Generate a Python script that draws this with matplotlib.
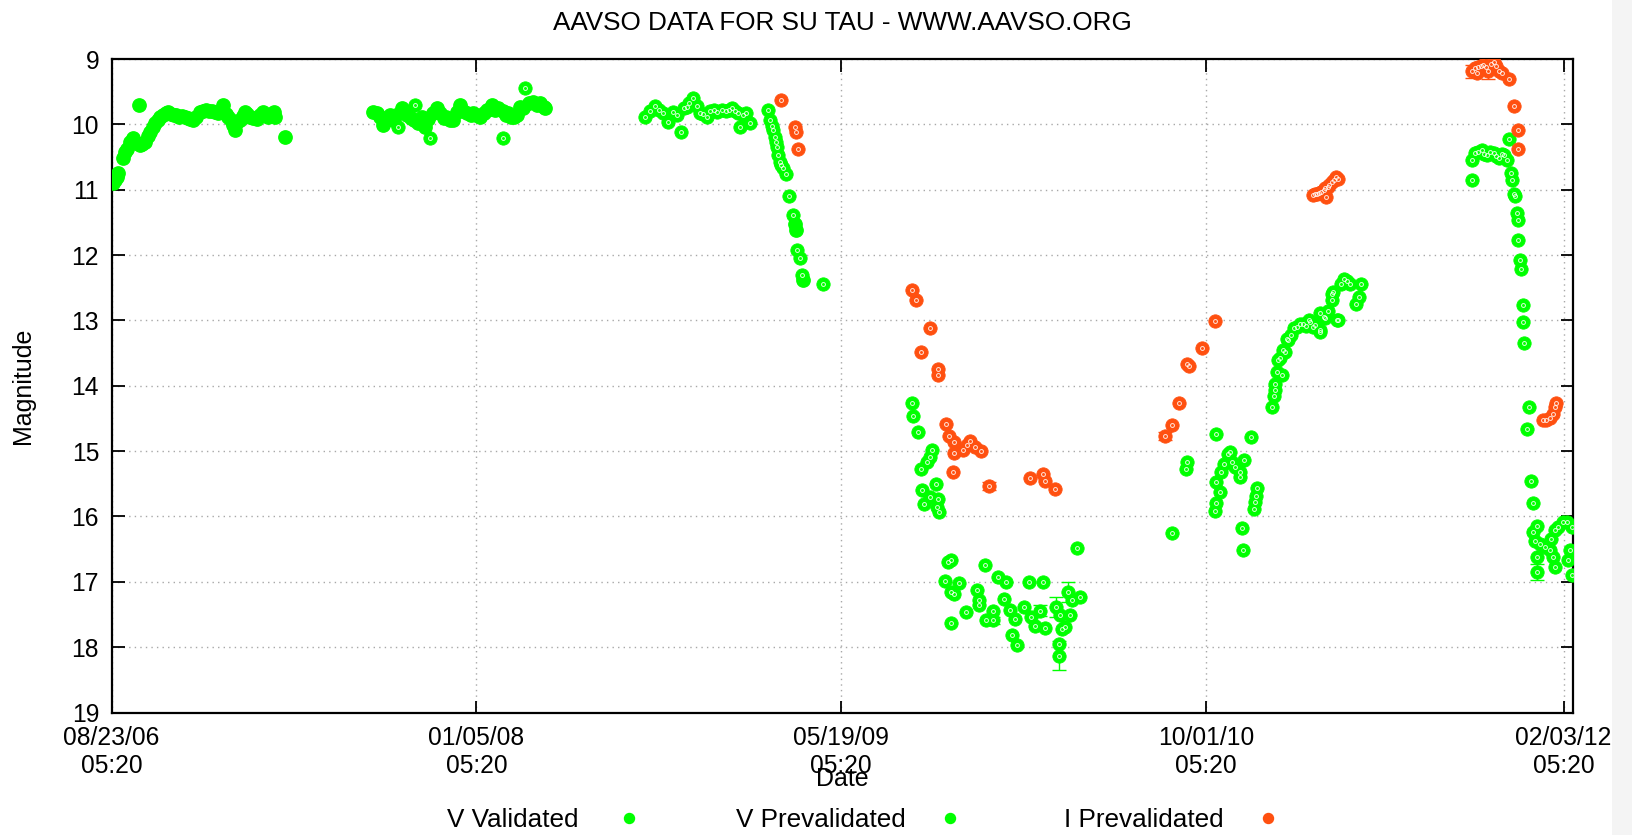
import matplotlib

matplotlib.use("Agg")
import matplotlib.pyplot as plt
import matplotlib.dates as mdates
import numpy as np
from matplotlib.lines import Line2D
from matplotlib.legend_handler import HandlerTuple
from matplotlib.patches import Rectangle

plt.rcParams["font.family"] = ["Liberation Sans", "DejaVu Sans"]

GREEN = "#00ff00"
RED = "#ff5010"
GRID = "#a8a8a8"

# observation times are days after 2006-08-23 05:20
T0 = np.datetime64("2006-08-23T05:20")

v_val_day = [2.5, 5, 7, 9, 16, 19, 21, 25, 30, 34, 38, 39, 42, 46, 50, 53, 57, 60, 63, 66,
             70, 74, 78, 82, 86, 89, 93, 97, 101, 105, 108, 112, 116, 121, 125, 130, 134, 138,
             142, 146, 150, 153, 157, 160, 164, 167, 169, 172, 176, 180, 183, 186, 190, 194,
             199, 203, 208, 212, 215, 218, 222, 224, 238,
             359, 364, 368, 372, 377, 382, 386, 390, 398, 402, 405, 410, 414, 420, 425, 430,
             434, 441, 446, 450, 455, 459, 464, 468, 473, 478, 482, 487, 492, 496, 500, 505,
             510, 514, 518, 521, 526, 530, 537, 541, 544, 548, 551, 556, 560, 564, 572, 578,
             583, 587, 592, 594,
             937, 938, 947]
v_val_mag = [10.90, 10.85, 10.80, 10.75, 10.52, 10.42, 10.37, 10.27, 10.21, 10.28, 9.70, 10.32,
             10.30, 10.27, 10.18, 10.11, 10.04, 9.98, 9.93, 9.88, 9.85, 9.82, 9.81, 9.84, 9.86,
             9.86, 9.88, 9.87, 9.88, 9.90, 9.91, 9.93, 9.88, 9.81, 9.80, 9.78, 9.79, 9.80, 9.81,
             9.83, 9.79, 9.70, 9.84, 9.88, 9.94, 10.01, 10.09, 9.96, 9.93, 9.87, 9.81, 9.84,
             9.88, 9.90, 9.91, 9.86, 9.81, 9.86, 9.88, 9.84, 9.81, 9.88, 10.19,
             9.81, 9.83, 9.88, 10.01, 9.92, 9.86, 9.93, 9.86, 9.75, 9.82, 9.86, 9.90, 9.93,
             9.98, 9.88, 10.04, 9.92, 9.83, 9.75, 9.83, 9.90, 9.88, 9.93, 9.93, 9.81, 9.70,
             9.80, 9.83, 9.86, 9.83, 9.86, 9.88, 9.82, 9.78, 9.76, 9.70, 9.78, 9.75, 9.80,
             9.85, 9.83, 9.88, 9.88, 9.86, 9.73, 9.75, 9.68, 9.65, 9.70, 9.68, 9.73, 9.75,
             11.52, 11.62, 12.38]

v_pre_day = [393, 416, 436, 537, 567,
             731, 738, 745, 750, 756, 763, 770, 775, 781, 784, 788, 791, 797, 802, 807, 811,
             816, 820, 825, 830, 836, 842, 846, 850, 855, 859, 861, 866, 870, 875,
             900, 902, 905, 907, 909, 911, 912, 914, 916, 918, 920, 924, 929, 934, 940, 943,
             946, 975,
             1097, 1099, 1105, 1109, 1111, 1114, 1117, 1122, 1122, 1125, 1130, 1131, 1133, 1134,
             1142, 1147, 1150, 1151, 1151, 1155, 1162, 1171, 1186, 1189, 1189, 1197, 1198, 1208,
             1208, 1215, 1223, 1226, 1232, 1234, 1238, 1241, 1251, 1258, 1260, 1266, 1272, 1276,
             1279, 1294, 1298, 1298, 1300, 1302, 1307, 1311, 1313, 1316, 1323, 1327,
             1453, 1472, 1474, 1512, 1514, 1514, 1514, 1519, 1520, 1525, 1530, 1533, 1535, 1540,
             1546, 1547, 1549, 1550, 1552, 1562, 1566, 1567, 1568, 1570,
             1590, 1593, 1594, 1594, 1597, 1599, 1601, 1604, 1606, 1608, 1611, 1613, 1617, 1620,
             1624, 1629, 1633, 1637, 1641, 1642, 1646, 1650, 1656, 1656, 1656, 1661, 1663, 1667,
             1672, 1672, 1674, 1679, 1681, 1685, 1689, 1693, 1697, 1705, 1709, 1713,
             1864, 1865, 1869, 1873, 1878, 1881, 1885, 1889, 1894, 1898, 1901, 1905, 1908, 1912,
             1915, 1918, 1919, 1922, 1924, 1926, 1927, 1928, 1930, 1931, 1934, 1935, 1936, 1940,
             1942, 1946, 1948, 1948, 1951, 1953, 1953, 1954, 1957, 1964, 1971, 1973, 1976, 1978,
             1978, 1983, 1989, 1994, 1996, 1999, 2001, 2002]
v_pre_mag = [10.04, 9.70, 10.21, 10.21, 9.45,
             9.88, 9.80, 9.72, 9.78, 9.83, 9.96, 9.81, 9.85, 10.11, 9.75, 9.74, 9.68, 9.59, 9.72,
             9.83, 9.84, 9.88, 9.80, 9.78, 9.81, 9.78, 9.80, 9.78, 9.75, 9.80, 9.83, 10.04, 9.86,
             9.83, 9.98,
             9.78, 9.93, 10.02, 10.09, 10.19, 10.27, 10.34, 10.47, 10.57, 10.62, 10.67, 10.76,
             11.10, 11.39, 11.92, 12.05, 12.31, 12.44,
             14.26, 14.47, 14.71, 15.27, 15.59, 15.81, 15.17, 15.09, 15.70, 14.99, 15.51, 15.86,
             15.73, 15.93,
             16.99, 16.70, 16.67, 17.16, 17.63, 17.18, 17.02, 17.46, 17.12, 17.28, 17.36, 16.75,
             17.58, 17.44, 17.59, 16.93, 17.26, 17.00, 17.43, 17.81, 17.57, 17.97, 17.39, 17.00,
             17.54, 17.67, 17.44, 17.00, 17.70, 17.39, 17.95, 18.13, 17.51, 17.72, 17.69, 17.16,
             17.51, 17.28, 16.49, 17.23,
             16.25, 15.27, 15.17, 15.91, 15.80, 15.47, 14.74, 15.63, 15.32, 15.20, 15.05, 15.01,
             15.17, 15.25, 15.32, 15.40, 16.17, 16.51, 15.13, 14.78, 15.88, 15.78, 15.68, 15.57,
             14.32, 14.15, 14.07, 13.97, 13.79, 13.61, 13.58, 13.84, 13.46, 13.48, 13.28, 13.30,
             13.23, 13.12, 13.10, 13.05, 13.05, 13.08, 13.00, 13.02, 13.10, 13.07, 13.15, 13.18,
             12.89, 12.95, 12.97, 12.85, 12.69, 12.59, 12.56, 13.00, 13.00, 12.45, 12.36, 12.40,
             12.44, 12.75, 12.64, 12.44,
             10.85, 10.55, 10.44, 10.42, 10.39, 10.45, 10.47, 10.42, 10.44, 10.48, 10.52, 10.45,
             10.47, 10.55, 10.23, 10.75, 10.85, 11.07, 11.10, 11.36, 11.47, 11.77, 12.08, 12.22,
             12.77, 13.02, 13.35, 14.66, 14.33, 15.46, 15.80, 16.24, 16.37, 16.15, 16.85, 16.62,
             16.42, 16.47, 16.52, 16.34, 16.62, 16.77, 16.21, 16.16, 16.09, 16.09, 16.66, 16.52,
             16.16, 16.89]

i_pre_day = [917, 936, 938, 941,
             1097, 1102, 1109, 1122, 1132, 1132, 1144, 1148, 1153, 1155, 1155, 1167, 1172, 1176,
             1183, 1192, 1202, 1259, 1277, 1279, 1293,
             1444, 1454, 1463, 1474, 1477, 1495, 1512,
             1647, 1650, 1652, 1655, 1658, 1661, 1663, 1665, 1667, 1669, 1672, 1675, 1678, 1681,
             1864, 1868, 1871, 1873, 1877, 1880, 1884, 1887, 1891, 1894, 1898, 1901, 1905, 1915,
             1922, 1927, 1928,
             1962, 1966, 1971, 1976, 1978, 1980]
i_pre_mag = [9.63, 10.04, 10.11, 10.37,
             12.53, 12.68, 13.48, 13.11, 13.74, 13.84, 14.58, 14.77, 15.32, 14.86, 15.03, 14.99,
             14.90, 14.85, 14.94, 15.00, 15.54, 15.41, 15.35, 15.46, 15.58,
             14.77, 14.60, 14.27, 13.67, 13.69, 13.42, 13.01,
             11.08, 11.07, 11.06, 11.05, 11.03, 11.00, 10.98, 11.11, 10.96, 10.93, 10.88, 10.85,
             10.81, 10.84,
             9.19, 9.13, 9.22, 9.12, 9.10, 9.09, 9.12, 9.19, 9.07, 9.04, 9.10, 9.18, 9.22, 9.31,
             9.72, 10.08, 10.38,
             14.53, 14.52, 14.50, 14.43, 14.32, 14.27]

# uncertainties large enough to show outside the symbols
v_err_day = [1208, 1272, 1294, 1298, 1311, 1953]
v_err_mag = [17.59, 17.44, 17.39, 18.13, 17.16, 16.85]
v_err = [0.05, 0.08, 0.15, 0.22, 0.15, 0.12]
i_err_day = [1202, 1444, 1864, 1887]
i_err_mag = [15.54, 14.77, 9.19, 9.19]
i_err = [0.06, 0.06, 0.10, 0.12]

x_tick_days = [0, 500, 1000, 1500, 1990]
x_span_days = 2003


def to_dates(days):
    return T0 + (np.asarray(days, dtype=float) * 86400).astype("timedelta64[s]")


fig = plt.figure(figsize=(16.33, 8.35), dpi=100, facecolor="white")
fig.patches.append(Rectangle((1612 / 1633, 0), 21 / 1633, 1, transform=fig.transFigure,
                             facecolor="#f4f4f4", edgecolor="none", zorder=-1))
ax = fig.add_axes([0.0683, 0.1467, 0.895, 0.7826])

MS = 9.6
RING_MS = 2.8


def prevalidated(x, y, color):
    """Filled disc with a small white ring inside it."""
    ax.plot(x, y, "o", ls="none", ms=MS, mfc=color, mec=color, mew=0.6, zorder=3)
    ax.plot(x, y, "o", ls="none", ms=RING_MS, mfc="none", mec="white", mew=0.7,
            alpha=0.85, zorder=4)


ax.errorbar(to_dates(v_err_day), v_err_mag, yerr=v_err, fmt="none", ecolor=GREEN,
            elinewidth=1.0, capsize=5, capthick=1.0, zorder=2)
ax.errorbar(to_dates(i_err_day), i_err_mag, yerr=i_err, fmt="none", ecolor=RED,
            elinewidth=1.0, capsize=5, capthick=1.0, zorder=2)

ax.plot(to_dates(v_val_day), v_val_mag, "o", ls="none", ms=MS, mfc=GREEN, mec=GREEN,
        zorder=3)
prevalidated(to_dates(v_pre_day), v_pre_mag, GREEN)
prevalidated(to_dates(i_pre_day), i_pre_mag, RED)

ax.set_xlim(to_dates([0])[0], to_dates([x_span_days])[0])
ax.set_ylim(19, 9)
ax.set_yticks(range(9, 20))
ax.set_xticks(to_dates(x_tick_days))
ax.xaxis.set_major_formatter(mdates.DateFormatter("%m/%d/%y\n%H:%M"))

ax.grid(True, color=GRID, linestyle=(0, (1, 3)), linewidth=1.0)
ax.tick_params(direction="in", length=9, width=1.3, top=True, right=True,
               labelsize=17.7, colors="black")
ax.tick_params(axis="x", pad=10)
ax.tick_params(axis="y", pad=9)
for s in ax.spines.values():
    s.set_linewidth(1.6)

# the axis title sits low, just under the second line of the tick labels
ax.set_xlabel("Date", fontsize=18, labelpad=-8)
ax.set_ylabel("Magnitude", fontsize=18, labelpad=26)
fig.text(0.516, 0.973, "AAVSO DATA FOR SU TAU - WWW.AAVSO.ORG", ha="center", va="center",
         fontsize=18.8)

h_val = Line2D([], [], ls="none", marker="o", ms=MS, mfc=GREEN, mec=GREEN)
h_ring = Line2D([], [], ls="none", marker="o", ms=RING_MS * 1.4, mfc="none", mec="white",
                mew=0.8)
h_vpre = Line2D([], [], ls="none", marker="o", ms=MS, mfc=GREEN, mec=GREEN)
h_ipre = Line2D([], [], ls="none", marker="o", ms=MS, mfc=RED, mec=RED)
fig.legend([h_val, (h_vpre, h_ring), (h_ipre, h_ring)],
           ["V Validated", "V Prevalidated", "I Prevalidated"],
           handler_map={tuple: HandlerTuple(ndivide=None, pad=0)},
           loc="center", bbox_to_anchor=(0.531, 0.018), ncol=3, frameon=False,
           markerfirst=False, fontsize=18.8, handlelength=1.0, handletextpad=1.45,
           columnspacing=3.6, markerscale=0.75)

fig.savefig("out.png", dpi=100, facecolor="white")
